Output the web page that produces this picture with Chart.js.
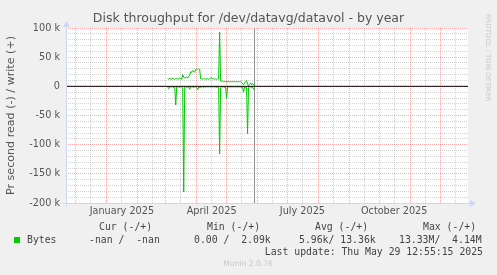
<!DOCTYPE html>
<html>
<head>
<meta charset="utf-8">
<script src="https://cdn.jsdelivr.net/npm/chart.js@4.4.1/dist/chart.umd.min.js"></script>
<style>
  body { margin: 0; background: #f0f0f0; }
  #wrap { width: 497px; height: 275px; }
</style>
</head>
<body>
<div id="wrap"><canvas id="chart" width="497" height="275"></canvas></div>
<script>
// DATA
const axisStart = '2024-11-21';
const axisEnd = '2025-12-29';
const monthStarts = ['2024-12-01', '2025-01-01', '2025-02-01', '2025-03-01', '2025-04-01', '2025-05-01',
  '2025-06-01', '2025-07-01', '2025-08-01', '2025-09-01', '2025-10-01', '2025-11-01', '2025-12-01'];
const midMonths = ['2024-12-16', '2025-01-16', '2025-02-16', '2025-03-16', '2025-04-16', '2025-05-16',
  '2025-06-16', '2025-07-16', '2025-08-16', '2025-09-16', '2025-10-16', '2025-11-16', '2025-12-16'];
const labelDates = ['2025-01-16', '2025-04-16', '2025-07-16', '2025-10-16'];
const labelTexts = ['January 2025', 'April 2025', 'July 2025', 'October 2025'];
const yTicks = [100, 50, 0, -50, -100, -150, -200];

// one sample per day, starting at firstSample (k bytes / s)
const firstSample = '2025-03-03';
const writeK = [13, 12, 14, 13, 12, 14, 13, 12, 13, 14, 12, 13, 14, 13, 12, 20, 16, 14, 15, 16,
  14, 17, 19, 25, 24, 27, 26, 24, 29, 30, 29, 30, 29, 13, 13, 12, 13, 13, 12, 13,
  13, 12, 13, 14, 15, 13, 13, 12, 13, 12, 13, 13, 93, 9, 9, 9, 8, 8, 8, 8,
  8, 8, 8, 8, 8, 8, 8, 8, 8, 8, 8, 8, 8, 8, 7, 4, 3, 6, 8, 10,
  4, 1, 3, 6, 3, 5, 2, 4];
const readK = [1, 4, 1, 1, 1, 1, 2, 1, 32, 1, 1, 1, 2, 1, 1, 2, 181, 1, 1, 1,
  2, 1, 5, 1, 1, 1, 2, 1, 1, 2, 6, 1, 3, 1, 1, 1, 2, 1, 1, 1,
  1, 1, 1, 1, 1, 1, 1, 1, 1, 2, 1, 1, 116, 2, 1, 1, 1, 2, 1, 21,
  1, 1, 1, 1, 1, 1, 1, 1, 1, 1, 1, 1, 1, 1, 2, 1, 10, 1, 2, 1,
  81, 2, 1, 1, 2, 1, 5, 2];
const lastUpdate = '2025-05-29';

const legendHeaders = ['Cur (-/+)', 'Min (-/+)', 'Avg (-/+)', 'Max (-/+)'];
const legendValues = ['-nan /  -nan', '0.00 /  2.09k', '5.96k/ 13.36k', '13.33M/  4.14M'];
const legendName = 'Bytes';
const updateText = 'Last update: Thu May 29 12:55:15 2025';

const GREEN = '#00cc00';
const AXIS = '#cfd6f8';
const MINOR = 'rgba(128,128,128,0.35)';
const MAJOR = 'rgba(255,0,0,0.32)';

const dayOf = s => (Date.parse(s) - Date.parse('2024-12-01')) / 86400000;
const startDay = dayOf(firstSample);
const monthDays = new Set(monthStarts.map(dayOf));
const labelDays = labelDates.map(dayOf);
const xTickDays = monthStarts.concat(midMonths).map(dayOf).sort((a, b) => a - b);

const writePoints = writeK.map((v, i) => ({ x: startDay + i, y: v }));
const readPoints = readK.map((v, i) => ({ x: startDay + i, y: -v })); // reads are drawn below zero

// Extra drawing: canvas, arrows, watermark, legend
const decorations = {
    id: 'decorations',
    beforeDraw(chart) {
        const { ctx, chartArea: a } = chart;
        ctx.save();
        ctx.fillStyle = '#ffffff';
        ctx.fillRect(a.left, a.top, a.right - a.left, a.bottom - a.top);
        ctx.restore();
    },
    afterDraw(chart) {
        const { ctx, chartArea: a } = chart;
        ctx.save();

        // axis arrows
        ctx.strokeStyle = AXIS;
        ctx.fillStyle = AXIS;
        ctx.lineWidth = 1;
        ctx.beginPath();
        ctx.moveTo(a.left - 4, a.bottom + 0.5);
        ctx.lineTo(a.right + 3, a.bottom + 0.5);
        ctx.moveTo(a.left + 0.5, a.bottom + 4);
        ctx.lineTo(a.left + 0.5, a.top - 2);
        ctx.stroke();
        ctx.beginPath();
        ctx.moveTo(a.right + 8, a.bottom + 0.5);
        ctx.lineTo(a.right + 2, a.bottom - 3);
        ctx.lineTo(a.right + 2, a.bottom + 4);
        ctx.closePath();
        ctx.fill();
        ctx.beginPath();
        ctx.moveTo(a.left + 0.5, a.top - 7);
        ctx.lineTo(a.left - 3, a.top - 1);
        ctx.lineTo(a.left + 4, a.top - 1);
        ctx.closePath();
        ctx.fill();

        // watermark
        ctx.fillStyle = '#c8c8c8';
        ctx.font = '6.8px "DejaVu Sans"';
        ctx.translate(487.5, 14);
        ctx.rotate(Math.PI / 2);
        ctx.textAlign = 'left';
        ctx.textBaseline = 'middle';
        ctx.fillText('RRDTOOL / TOBI OETIKER', 0, 0);
        ctx.setTransform(1, 0, 0, 1, 0, 0);

        // legend
        ctx.font = '9.8px "DejaVu Sans Mono"';
        ctx.fillStyle = '#444';
        ctx.textBaseline = 'middle';
        ctx.textAlign = 'left';
        const headX = [99, 207, 315, 423];
        legendHeaders.forEach((t, i) => ctx.fillText(t, headX[i], 227.5));
        const valX = [89, 194, 299, 399];
        legendValues.forEach((t, i) => ctx.fillText(t, valX[i], 240));
        ctx.fillText(legendName, 27, 240);
        ctx.textAlign = 'right';
        ctx.fillText(updateText, 483, 252);
        ctx.fillStyle = GREEN;
        ctx.fillRect(14, 237, 6, 6);

        ctx.font = '7.6px "DejaVu Sans"';
        ctx.fillStyle = '#c8c8c8';
        ctx.textAlign = 'center';
        ctx.fillText('Munin 2.0.76', 248, 264);
        ctx.restore();
    }
};

const ctx = document.getElementById('chart').getContext('2d');
new Chart(ctx, {
    type: 'line',
    data: {
        datasets: [
            {
                label: 'zero',
                data: [{ x: dayOf(axisStart), y: 0 }, { x: dayOf(axisEnd), y: 0 }],
                borderColor: '#000000',
                borderWidth: 1,
                pointRadius: 0
            },
            {
                label: 'write',
                data: writePoints,
                borderColor: GREEN,
                borderWidth: 1,
                pointRadius: 0
            },
            {
                label: 'read',
                data: readPoints,
                borderColor: GREEN,
                borderWidth: 1,
                pointRadius: 0
            },
            {
                label: 'now',
                data: [{ x: dayOf(lastUpdate), y: -200 }, { x: dayOf(lastUpdate), y: 100 }],
                borderColor: '#909090',
                borderWidth: 1,
                pointRadius: 0
            }
        ]
    },
    options: {
        responsive: false,
        animation: false,
        layout: { padding: { left: 0, right: 0, top: 0, bottom: 52 } },
        plugins: {
            legend: { display: false },
            tooltip: { enabled: false },
            title: {
                display: true,
                text: 'Disk throughput for /dev/datavg/datavol - by year',
                color: '#555',
                font: { family: 'DejaVu Sans', size: 12.5, weight: 'normal' },
                padding: { top: 11.5, bottom: 1.5 }
            }
        },
        scales: {
            x: {
                type: 'linear',
                min: dayOf(axisStart),
                max: dayOf(axisEnd),
                afterBuildTicks: scale => { scale.ticks = xTickDays.map(v => ({ value: v })); },
                afterFit: scale => { scale.height = 20; },
                ticks: {
                    autoSkip: false,
                    maxRotation: 0,
                    padding: 3,
                    color: '#555',
                    font: { family: 'DejaVu Sans', size: 9.7 },
                    callback: v => {
                        const i = labelDays.indexOf(v);
                        return i >= 0 ? labelTexts[i] : '';
                    }
                },
                grid: {
                    drawTicks: false,
                    color: c => monthDays.has(c.tick.value) ? MAJOR : MINOR
                },
                border: { display: false, dash: [1, 1] }
            },
            y: {
                min: -200,
                max: 100,
                afterFit: scale => { scale.width = 66; },
                ticks: {
                    stepSize: 10,
                    autoSkip: false,
                    padding: 6,
                    color: '#555',
                    font: { family: 'DejaVu Sans', size: 9.7 },
                    callback: v => yTicks.includes(v) ? (v === 0 ? '0' : v + ' k') : ''
                },
                grid: {
                    drawTicks: false,
                    color: c => c.tick.value % 50 === 0 ? MAJOR : MINOR
                },
                border: { display: false, dash: [1, 1] },
                title: {
                    display: true,
                    text: 'Pr second read (-) / write (+)',
                    color: '#555',
                    font: { family: 'DejaVu Sans', size: 11.1 },
                    padding: { top: 4.2, bottom: 0 }
                }
            },
            // empty right margin so the title stays centred on the canvas
            yRight: {
                position: 'right',
                min: -200,
                max: 100,
                afterFit: scale => { scale.width = 29; },
                ticks: { display: false },
                grid: { display: false },
                border: { display: false }
            }
        }
    },
    plugins: [decorations]
});
</script>
</body>
</html>
